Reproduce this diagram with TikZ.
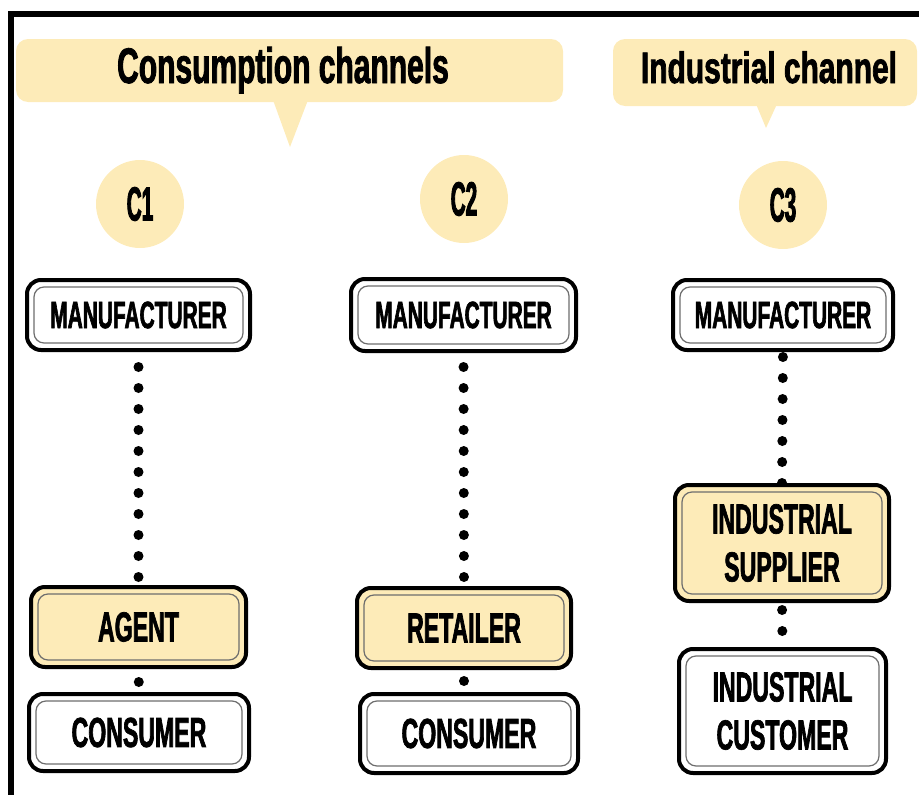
\documentclass[tikz,border=0pt]{standalone}
\usepackage{fontspec}
\newfontfamily\ftBox{Liberation Sans}[FakeStretch=0.55, FakeBold=1.6]
\newfontfamily\ftCirc{Liberation Sans}[FakeStretch=0.43, FakeBold=1.8]
\newfontfamily\ftTa{Liberation Sans}[FakeStretch=0.60, FakeBold=1.6]
\newfontfamily\ftTb{Liberation Sans}[FakeStretch=0.68, FakeBold=1.6]
\definecolor{cream}{RGB}{253,235,184}
\definecolor{innergray}{RGB}{110,110,110}
\pgfdeclarelayer{bg}
\pgfsetlayers{bg,main}
\tikzset{
  labbox/.style={draw=black, line width=4pt, rounded corners=14pt, fill=white, inner sep=0pt, outer sep=0pt,
    align=center, text=black, font=\ftBox\bfseries\fontsize{42}{48}\selectfont},
  ylabbox/.style={labbox, fill=cream},
  mfont/.style={font=\ftBox\bfseries\fontsize{38}{40}\selectfont},
  innerline/.style={draw=innergray, line width=1.2pt, rounded corners=10pt},
  circ/.style={circle, fill=cream, minimum size=88pt, inner sep=0pt, text=black,
    font=\ftCirc\bfseries\fontsize{48}{48}\selectfont},
  dotline/.style={line width=10pt, line cap=round, dash pattern=on 0pt off 21pt, black},
  banner/.style={fill=cream, rounded corners=12pt},
  titleA/.style={anchor=base, text=black, font=\ftTa\bfseries\fontsize{50}{50}\selectfont},
  titleB/.style={anchor=base, text=black, font=\ftTb\bfseries\fontsize{44}{44}\selectfont},
  frameline/.style={line width=6pt, black}
}
\begin{document}
\begin{tikzpicture}[x=1pt,y=-1pt]
\useasboundingbox (0,0) rectangle (919,795);
% frame
\draw[frameline] (11,795) -- (11,14) -- (919,14);
% banners
\fill[banner] (16,39) rectangle (563,102);
\fill[cream] (273,100) -- (308,100) -- (290,147) -- cycle;
\fill[banner] (613,39) rectangle (917,106);
\fill[cream] (756,104) -- (777,104) -- (766,128) -- cycle;
\node[titleA] (t1) at (283,83) {Consumption channels};
\node[titleB] (t2) at (769,83) {Industrial channel};
% channel circles
\node[circ] (k1) at (140,204) {C1};
\node[circ] (k2) at (464,199) {C2};
\node[circ] (k3c) at (783,205) {C3};
% boxes column 1
\node[labbox, mfont, minimum width=223pt, minimum height=70pt] (m1) at (138.5,315) {MANUFACTURER};
\node[ylabbox, minimum width=215pt, minimum height=80pt] (a1) at (138.5,627) {AGENT};
\node[labbox, minimum width=220pt, minimum height=77pt] (c1) at (139,732.5) {CONSUMER};
% column 2
\node[labbox, mfont, minimum width=225pt, minimum height=72pt] (m2) at (463.5,315) {MANUFACTURER};
\node[ylabbox, minimum width=214pt, minimum height=80pt] (r2) at (464,628) {RETAILER};
\node[labbox, minimum width=218pt, minimum height=79pt] (c2) at (469,733.5) {CONSUMER};
% column 3
\node[labbox, mfont, minimum width=220pt, minimum height=70pt] (m3) at (783,315) {MANUFACTURER};
\node[ylabbox, minimum width=214pt, minimum height=116pt] (s3) at (782,543) {INDUSTRIAL\\SUPPLIER};
\node[labbox, minimum width=207pt, minimum height=124pt] (k3) at (782.5,711) {INDUSTRIAL\\CUSTOMER};
% inner outlines
\foreach \n in {m1,a1,c1,m2,r2,c2,m3,s3,k3}
  \draw[innerline] ([shift={(7,7)}]\n.north west) rectangle ([shift={(-7,-7)}]\n.south east);
% dotted connectors
\begin{pgfonlayer}{bg}
\draw[dotline, dash phase=4pt] (m1.south) -- (a1.north);
\draw[dotline, dash phase=6pt] (a1.south) -- (c1.north);
\draw[dotline, dash phase=5pt] (m2.south) -- (r2.north);
\draw[dotline, dash phase=8pt] (r2.south) -- (r2.south |- c2.north);
\draw[dotline, dash phase=14pt] (m3.south) -- (s3.north);
\draw[dotline, dash phase=12pt] (s3.south) -- (k3.north);
\end{pgfonlayer}
\end{tikzpicture}
\end{document}
